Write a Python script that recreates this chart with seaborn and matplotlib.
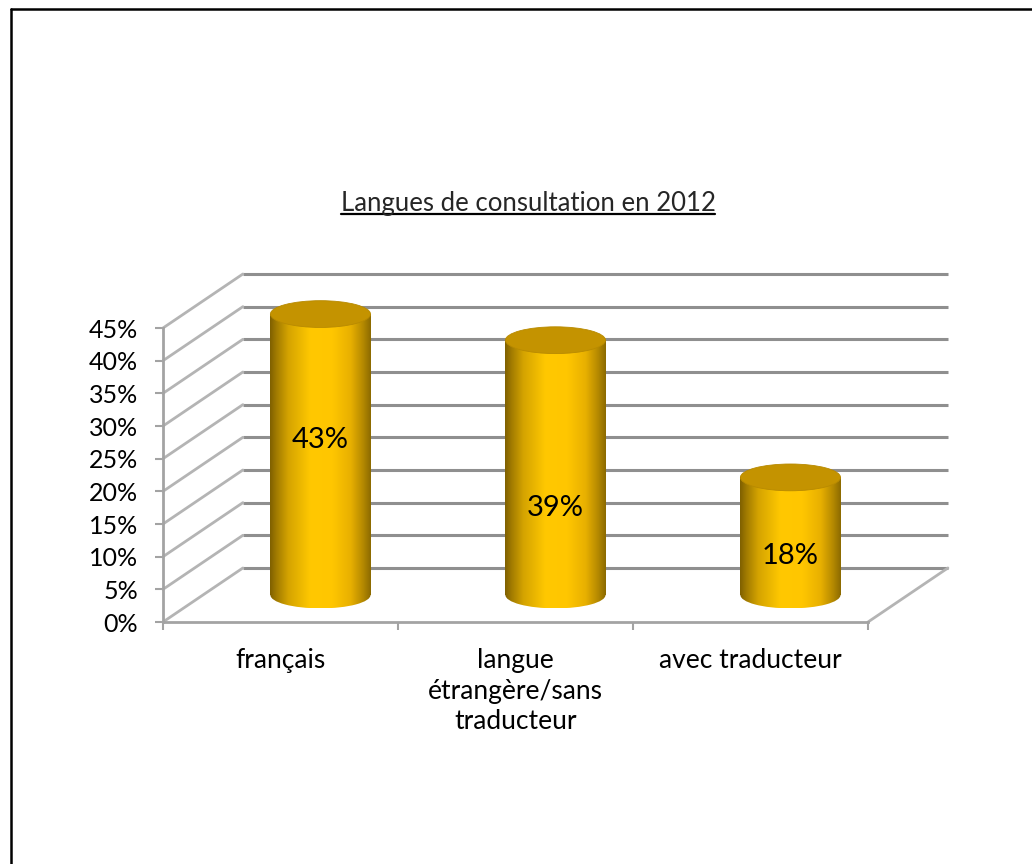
import numpy as np
import pandas as pd
import matplotlib
matplotlib.use("Agg")
import matplotlib.pyplot as plt
import matplotlib.transforms as mtransforms
from matplotlib.colors import LinearSegmentedColormap
from matplotlib.lines import Line2D
from matplotlib.patches import Ellipse
import seaborn as sns

# ---- data -------------------------------------------------------------
categories = ["français", "langue\nétrangère/sans\ntraducteur", "avec traducteur"]
values = [43, 39, 18]
value_labels = ["43%", "39%", "18%"]
y_ticks = [0, 5, 10, 15, 20, 25, 30, 35, 40, 45]
y_tick_labels = ["0%", "5%", "10%", "15%", "20%", "25%", "30%", "35%", "40%", "45%"]
title = "Langues de consultation en 2012"

# ---- style ------------------------------------------------------------
sns.set_style("white")
plt.rcParams["font.family"] = ["Lato", "DejaVu Sans"]
FS_TICK = 18
FS_CAT = 19
FS_TITLE = 18.5
FS_VAL = 21
GRID = "#8f8f8f"
AXIS = "#a3a3a3"
DIAG = "#b4b4b4"

# oblique projection: full depth shift in (category units, percent units)
KX, KY = 0.340, 8.27
# cylinders sit at mid depth
DX, DY = KX * 0.5, KY * 0.5
BAR_W = 0.426
ELL_H = 4.1
label_frac = [0.55, 0.34, 0.33]

W_PX, H_PX = 1032, 864
PX_PER_CAT = 235.0
PX_PER_PCT = 6.533
X0_PX, Y0_PX = 163, 242          # front-plane origin (from bottom-left)
XLIM = (-0.5, 2.9)
YLIM = (0, 55)

fig = plt.figure(figsize=(W_PX / 100, H_PX / 100), dpi=100)
ax_w = (XLIM[1] - XLIM[0]) * PX_PER_CAT
ax_h = (YLIM[1] - YLIM[0]) * PX_PER_PCT
ax = fig.add_axes([X0_PX / W_PX, Y0_PX / H_PX, ax_w / W_PX, ax_h / H_PX])

df = pd.DataFrame({"cat": categories, "val": values})

# back wall gridlines and left side wall
xl, xr = -0.5, 2.5
for v in y_ticks:
    ax.plot([xl + KX, xr + KX], [v + KY, v + KY], color=GRID, lw=2.2,
            solid_capstyle="butt", clip_on=False, zorder=1)
    ax.plot([xl, xl + KX], [v, v + KY], color=DIAG, lw=2.0,
            clip_on=False, zorder=1)
# right floor edge
ax.plot([xr, xr + KX], [0, KY], color=DIAG, lw=2.0, clip_on=False, zorder=1)

# cylinder bodies
sns.barplot(data=df, x="cat", y="val", width=BAR_W, errorbar=None,
            color="#ffc800", ax=ax, zorder=3)

cmap = LinearSegmentedColormap.from_list(
    "gold",
    [(0.00, "#7f6000"), (0.06, "#a07a00"), (0.18, "#d4a300"),
     (0.40, "#ffc800"), (0.62, "#ffc600"), (0.80, "#e8b000"),
     (0.92, "#b68a00"), (1.00, "#8c6a00")])
grad = np.linspace(0, 1, 256)[None, :]

shift = mtransforms.Affine2D().translate(DX, DY) + ax.transData
for i, patch in enumerate(ax.patches[:len(values)]):
    patch.set_transform(shift)
    patch.set_facecolor("none")
    patch.set_edgecolor("none")
    x0 = patch.get_x() + DX
    w = patch.get_width()
    h = patch.get_height()
    cx = x0 + w / 2
    # body gradient
    im = ax.imshow(grad, cmap=cmap, aspect="auto", interpolation="bilinear",
                   extent=(x0, x0 + w, DY, DY + h), zorder=3)
    im.set_clip_path(patch)
    # rounded bottom
    bottom = Ellipse((cx, DY), w, ELL_H, facecolor="none", edgecolor="none")
    ax.add_patch(bottom)
    im2 = ax.imshow(grad, cmap=cmap, aspect="auto", interpolation="bilinear",
                    extent=(x0, x0 + w, DY - ELL_H / 2, DY), zorder=3)
    im2.set_clip_path(bottom)
    # top cap
    ax.add_patch(Ellipse((cx, DY + h), w, ELL_H, facecolor="#c49300",
                         edgecolor="#b88a00", lw=0.6, zorder=4, clip_on=False))
    # value label
    ax.text(cx, DY + h * label_frac[i], value_labels[i], ha="center",
            va="center", fontsize=FS_VAL, color="black", zorder=5)

ax.set_xlim(*XLIM)
ax.set_ylim(*YLIM)

# axes: front left edge and front floor edge
for side in ["top", "right"]:
    ax.spines[side].set_visible(False)
ax.spines["left"].set_bounds(0, 45)
ax.spines["bottom"].set_bounds(xl, xr)
for side in ["left", "bottom"]:
    ax.spines[side].set_color(AXIS)
    ax.spines[side].set_linewidth(2.0)

ax.set_yticks(y_ticks, labels=y_tick_labels)
ax.tick_params(axis="y", direction="out", length=6, width=1.5, color=AXIS,
               pad=12, labelsize=FS_TICK, labelcolor="black", left=True)
ax.set_xticks([0, 1, 2], labels=categories)
ax.set_xticks([-0.5, 0.5, 1.5, 2.5], minor=True)
ax.tick_params(axis="x", which="major", length=0, pad=19, labelsize=FS_CAT,
               labelcolor="black")
ax.tick_params(axis="x", which="minor", direction="out", length=6,
               width=1.5, color=AXIS, bottom=True)
for lab in ax.get_xticklabels():
    lab.set_multialignment("center")
    lab.set_linespacing(1.26)
ax.set_xlabel("")
ax.set_ylabel("")
ax.patch.set_alpha(0)

# title with underline
t = fig.text(528 / W_PX, 1 - 211 / H_PX, title, ha="center", va="baseline",
             fontsize=FS_TITLE)
fig.canvas.draw()
bb = t.get_window_extent()
uy = 1 - 214 / H_PX
fig.add_artist(Line2D([bb.x0 / W_PX, bb.x1 / W_PX], [uy, uy],
                      color="black", lw=1.6))

# chart frame
fig.add_artist(Line2D([11 / W_PX, 1], [1 - 9 / H_PX, 1 - 9 / H_PX],
                      color="black", lw=1.8))
fig.add_artist(Line2D([11 / W_PX, 11 / W_PX], [0, 1 - 9 / H_PX],
                      color="black", lw=1.8))

fig.savefig("out.png", dpi=100)
